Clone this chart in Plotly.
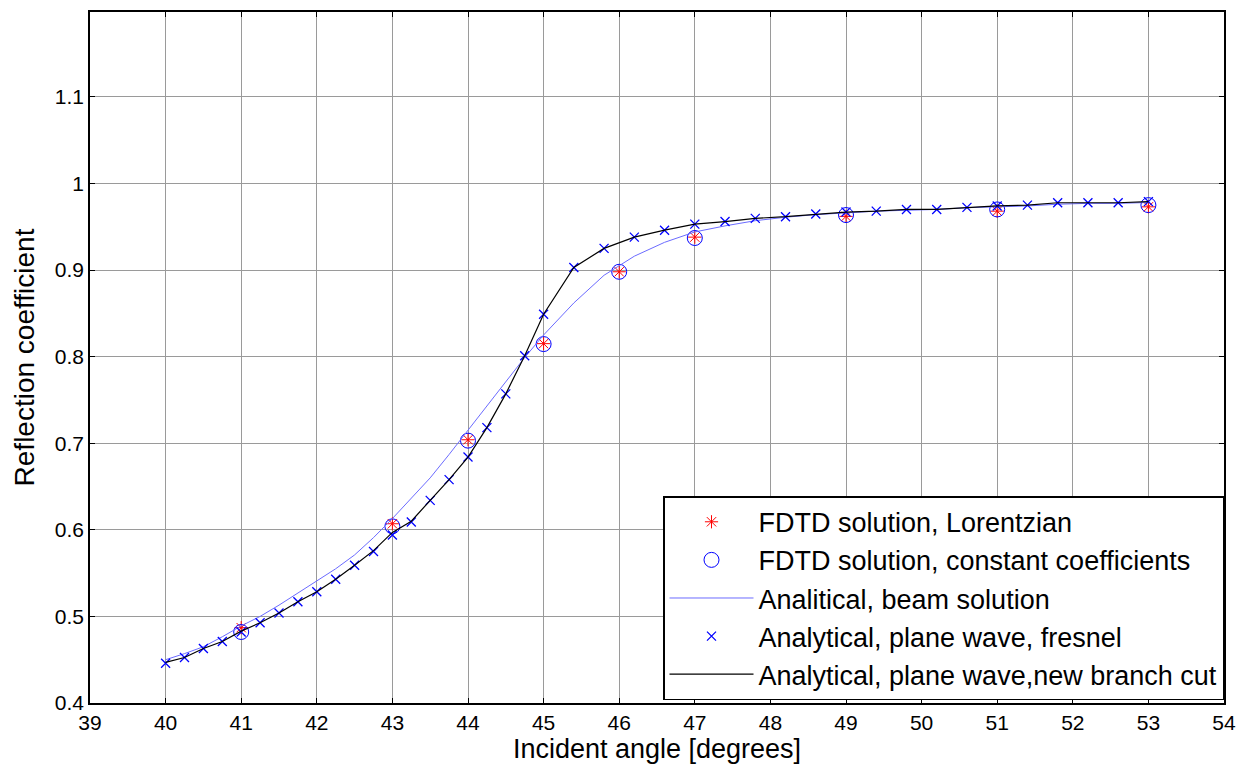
import plotly.graph_objects as go

# ---------------- data ----------------
fdtd_angles = [41, 43, 44, 45, 46, 47, 49, 51, 53]
lorentzian = [0.487, 0.607, 0.704, 0.815, 0.898, 0.938, 0.962, 0.968, 0.973]
constant_coeff = [0.482, 0.604, 0.703, 0.8145, 0.898, 0.937, 0.9635, 0.970, 0.975]

angles = [40, 40.25, 40.5, 40.75, 41, 41.25, 41.5, 41.75, 42, 42.25, 42.5, 42.75,
          43, 43.25, 43.5, 43.75, 44, 44.25, 44.5, 44.75, 45,
          45.4, 45.8, 46.2, 46.6, 47.0, 47.4, 47.8, 48.2, 48.6, 49.0,
          49.4, 49.8, 50.2, 50.6, 51.0, 51.4, 51.8, 52.2, 52.6, 53.0]

beam = [0.450, 0.457, 0.465, 0.4765, 0.489, 0.500, 0.513, 0.527, 0.541, 0.555, 0.571, 0.591,
        0.613, 0.636, 0.660, 0.687, 0.715, 0.744, 0.772, 0.799, 0.825,
        0.862, 0.894, 0.916, 0.932, 0.944, 0.951, 0.957, 0.961, 0.964, 0.966,
        0.968, 0.969, 0.970, 0.972, 0.973, 0.974, 0.976, 0.977, 0.977, 0.978]

fresnel = [0.446, 0.4525, 0.463, 0.471, 0.482, 0.4927, 0.504, 0.517, 0.5285, 0.543, 0.559, 0.575,
           0.594, 0.609, 0.634, 0.658, 0.684, 0.718, 0.757, 0.801, 0.849,
           0.903, 0.925, 0.938, 0.946, 0.953, 0.956, 0.9597, 0.9616, 0.9647, 0.967,
           0.968, 0.970, 0.970, 0.9724, 0.974, 0.975, 0.9777, 0.9777, 0.9777, 0.979]

branch_cut = [0.447, 0.4525, 0.463, 0.471, 0.483, 0.4927, 0.504, 0.517, 0.5285, 0.543, 0.559, 0.576,
              0.597, 0.610, 0.634, 0.658, 0.684, 0.718, 0.757, 0.801, 0.849,
              0.903, 0.925, 0.938, 0.946, 0.953, 0.956, 0.9597, 0.9616, 0.9647, 0.967,
              0.968, 0.970, 0.970, 0.9724, 0.974, 0.975, 0.9777, 0.9777, 0.9777, 0.979]

x_ticks = list(range(39, 55))
y_ticks = [0.4, 0.5, 0.6, 0.7, 0.8, 0.9, 1.0, 1.1]
y_tick_text = ["0.4", "0.5", "0.6", "0.7", "0.8", "0.9", "1", "1.1"]

# ---------------- figure ----------------
FONT = "Liberation Sans, Arial, sans-serif"
fig = go.Figure()

fig.add_trace(go.Scatter(
    x=fdtd_angles, y=lorentzian, mode="markers", name="FDTD solution, Lorentzian",
    legendgroup="a",
    marker=dict(symbol="asterisk-open", size=11, color="red", line=dict(color="red", width=1))))
fig.add_trace(go.Scatter(
    x=fdtd_angles, y=constant_coeff, mode="markers", name="FDTD solution, constant coefficients",
    legendgroup="b",
    marker=dict(symbol="circle-open", size=15, color="blue", line=dict(color="blue", width=1))))
fig.add_trace(go.Scatter(
    x=angles, y=beam, mode="lines", name="Analitical, beam solution",
    legendgroup="c",
    line=dict(color="#6b6bff", width=1)))
fig.add_trace(go.Scatter(
    x=angles, y=fresnel, mode="markers", name="Analytical, plane wave, fresnel",
    legendgroup="d",
    marker=dict(symbol="x-thin-open", size=9, color="blue", line=dict(color="blue", width=1.3))))
fig.add_trace(go.Scatter(
    x=angles, y=branch_cut, mode="lines", name="Analytical, plane wave,new branch cut",
    legendgroup="e",
    line=dict(color="black", width=1.2)))

axis_common = dict(
    showline=True, linecolor="black", linewidth=1.5, mirror="ticks",
    ticks="inside", ticklen=5, tickcolor="black",
    showgrid=True, gridcolor="#9a9a9a", gridwidth=1,
    zeroline=False, automargin=False,
    tickfont=dict(family=FONT, size=21, color="black"),
)

fig.update_xaxes(range=[39, 54], tickvals=x_ticks, ticktext=[str(v) for v in x_ticks],
                 title=dict(text="Incident angle [degrees]", font=dict(family=FONT, size=27, color="black"),
                            standoff=6),
                 **axis_common)
fig.update_yaxes(range=[0.4, 1.198], tickvals=y_ticks, ticktext=y_tick_text,
                 title=dict(text="Reflection coefficient", font=dict(family=FONT, size=28, color="black"),
                            standoff=12),
                 **axis_common)

# page body has an 8px default margin, so margins compensate for it
fig.update_layout(
    width=1247, height=773,
    margin=dict(l=82, r=31, t=4, b=78),
    paper_bgcolor="white", plot_bgcolor="white",
    font=dict(family=FONT, color="black"),
    showlegend=True,
    legend=dict(x=1, y=0.004, xanchor="right", yanchor="bottom",
                bordercolor="black", borderwidth=1.5, bgcolor="white",
                font=dict(family=FONT, size=27, color="black"),
                tracegroupgap=0, itemwidth=84),
)

fig.write_html("out.html")
